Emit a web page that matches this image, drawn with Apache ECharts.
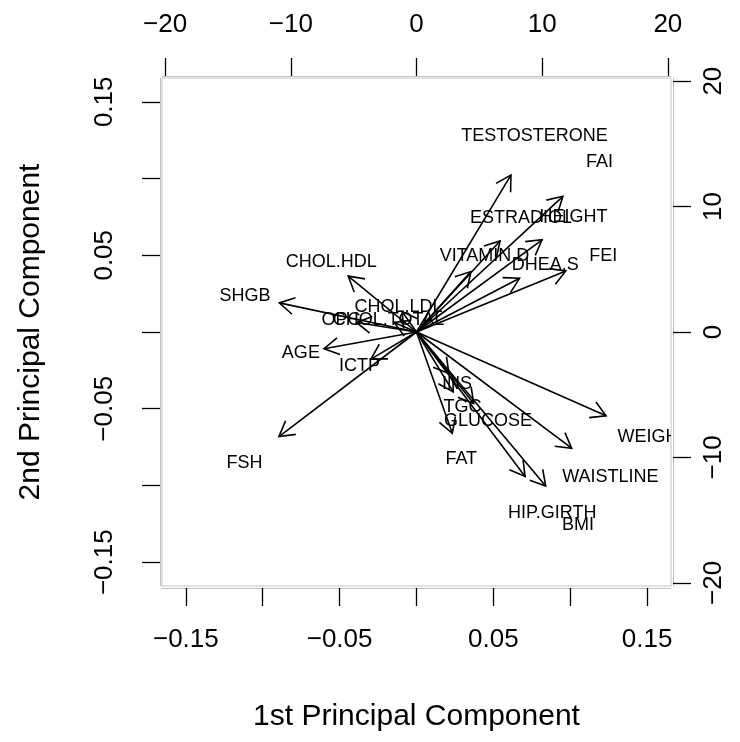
<!DOCTYPE html>
<html>
<head>
<meta charset="utf-8">
<title>PCA biplot</title>
<script src="https://cdn.jsdelivr.net/npm/echarts@6/dist/echarts.min.js"></script>
<style>
  html, body { margin: 0; padding: 0; background: #ffffff; }
  #chart { width: 740px; height: 742px; }
</style>
</head>
<body>
<div id="chart"></div>
<script>
// Variable loadings on the first two principal components (top/right axis units)
const variableNames = [
  'TESTOSTERONE', 'FAI', 'HEIGHT', 'ESTRADIOL', 'VITAMIN.D', 'DHEA.S', 'FEI',
  'WEIGHT', 'WAISTLINE', 'HIP.GIRTH', 'BMI', 'GLUCOSE', 'TGC', 'INS', 'FAT',
  'CHOL.LDL', 'OPG', 'CHOL.TOTAL', 'ICTP', 'AGE', 'SHGB', 'CHOL.HDL', 'FSH'
];
const loadingPC1 = [
  9.39, 14.56, 12.49, 8.31, 5.41, 10.25, 14.85,
  18.85, 15.43, 10.80, 12.85, 5.69, 3.66, 3.22, 3.56,
  -1.43, -5.97, -2.23, -4.53, -9.20, -13.64, -6.79, -13.68
];
const loadingPC2 = [
  15.63, 13.52, 9.19, 9.07, 6.02, 5.35, 6.09,
  -8.35, -11.58, -14.40, -15.35, -7.12, -5.97, -4.14, -10.10,
  2.03, 0.95, 0.95, -2.70, -1.67, 2.90, 5.57, -10.42
];

// Axis ticks: score scale (bottom/left) and loading scale (top/right)
const scoreTicks = [-0.15, -0.10, -0.05, 0, 0.05, 0.10, 0.15];
const scoreTickLabels = [-0.15, -0.05, 0.05, 0.15];
const loadingTicks = [-20, -10, 0, 10, 20];
const scoreLimit = 0.1655;
const loadingLimit = 20.25;

const FONT = '"Liberation Sans", Arial, Helvetica, sans-serif';
const BOX_GREY = '#c4c4c4';
const TICK_FONT = 26;
const TITLE_FONT = 30;

function minusSign(s) { return s.replace('-', '\u2212'); }
const fmtScore = v => minusSign(Number(v).toFixed(2));
const fmtLoading = v => minusSign(String(Math.round(v)));

function axisBase(limit, ticks, labels, fmt, margin, rotate) {
  return {
    type: 'value',
    min: -limit,
    max: limit,
    offset: 2,
    axisLine: { show: true, onZero: false, lineStyle: { color: BOX_GREY, width: 1 } },
    axisTick: { show: true, length: 18, customValues: ticks, lineStyle: { color: '#000', width: 1.3 } },
    axisLabel: {
      show: true, customValues: labels, formatter: fmt, margin: margin, rotate: rotate,
      color: '#000', fontSize: TICK_FONT, fontFamily: FONT
    },
    splitLine: { show: false }
  };
}

const chart = echarts.init(document.getElementById('chart'), null, { renderer: 'canvas' });

const option = {
  animation: false,
  backgroundColor: '#ffffff',
  grid: {
    show: true, left: 162, right: 69, top: 78, bottom: 156,
    borderColor: BOX_GREY, borderWidth: 1, backgroundColor: 'transparent'
  },
  xAxis: [
    Object.assign(axisBase(scoreLimit, scoreTicks, scoreTickLabels, fmtScore, 39, 0), {
      position: 'bottom',
      name: '1st Principal Component', nameLocation: 'middle', nameGap: 114,
      nameTextStyle: { color: '#000', fontSize: TITLE_FONT, fontFamily: FONT }
    }),
    Object.assign(axisBase(loadingLimit, loadingTicks, loadingTicks, fmtLoading, 38, 0), {
      position: 'top'
    })
  ],
  yAxis: [
    Object.assign(axisBase(scoreLimit, scoreTicks, scoreTickLabels, fmtScore, 42, 90), {
      position: 'left',
      name: '2nd Principal Component', nameLocation: 'middle', nameGap: 114, nameRotate: 90,
      nameTextStyle: { color: '#000', fontSize: TITLE_FONT, fontFamily: FONT }
    }),
    Object.assign(axisBase(loadingLimit, loadingTicks, loadingTicks, fmtLoading, 28, 90), {
      position: 'right'
    })
  ],
  series: [{
    type: 'custom',
    xAxisIndex: 1,
    yAxisIndex: 1,
    clip: true,
    encode: { x: 0, y: 1 },
    data: variableNames.map((name, i) => [loadingPC1[i], loadingPC2[i]]),
    renderItem: function (params, api) {
      const u = api.value(0);
      const v = api.value(1);
      const origin = api.coord([0, 0]);
      const tip = api.coord([u * 0.8, v * 0.8]);
      const at = api.coord([u, v]);
      const ang = Math.atan2(tip[1] - origin[1], tip[0] - origin[0]);
      const headLen = 17;
      const headAng = Math.PI / 6;
      const b1 = [tip[0] - headLen * Math.cos(ang - headAng), tip[1] - headLen * Math.sin(ang - headAng)];
      const b2 = [tip[0] - headLen * Math.cos(ang + headAng), tip[1] - headLen * Math.sin(ang + headAng)];
      return {
        type: 'group',
        children: [
          {
            type: 'text',
            style: {
              text: variableNames[params.dataIndex],
              x: at[0], y: at[1],
              align: 'center', verticalAlign: 'middle',
              fill: '#000', fontSize: 18, fontFamily: FONT
            }
          },
          {
            type: 'line',
            shape: { x1: origin[0], y1: origin[1], x2: tip[0], y2: tip[1] },
            style: { stroke: '#000', lineWidth: 1.6 }
          },
          {
            type: 'polyline',
            shape: { points: [b1, tip, b2] },
            style: { stroke: '#000', lineWidth: 1.6, fill: null }
          }
        ]
      };
    }
  }]
};

chart.setOption(option);
</script>
</body>
</html>
